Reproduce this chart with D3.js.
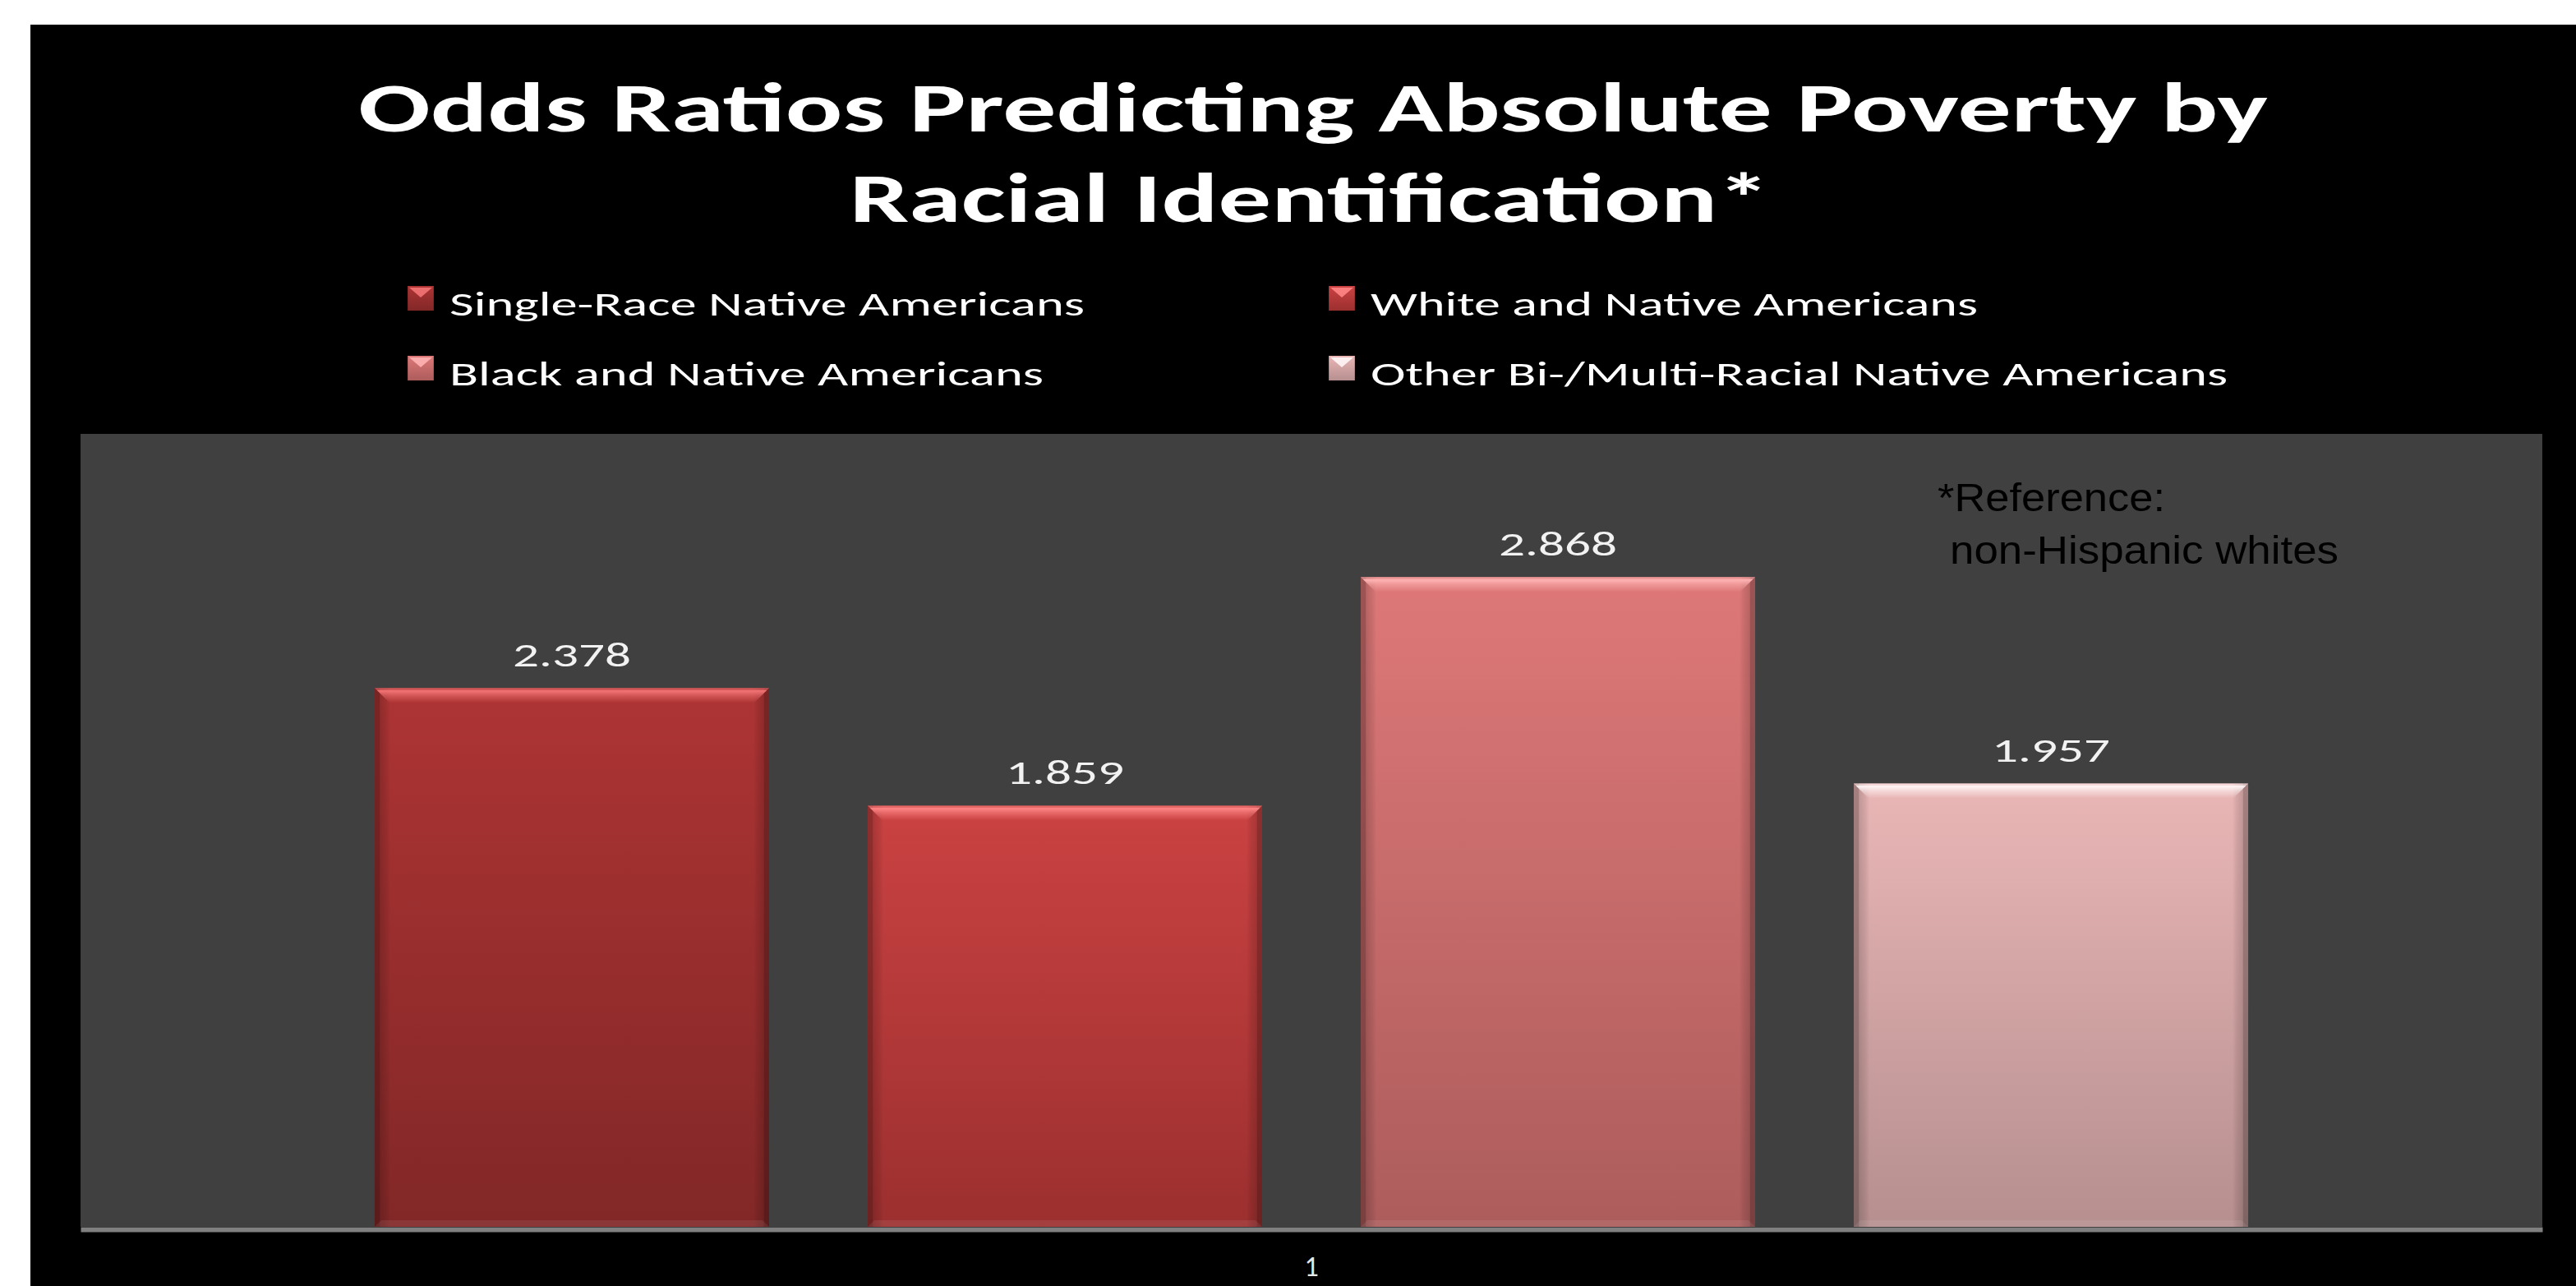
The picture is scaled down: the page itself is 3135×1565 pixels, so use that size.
<!DOCTYPE html>
<html><head><meta charset="utf-8">
<script src="https://cdn.jsdelivr.net/npm/d3@7"></script>
<style>html,body{margin:0;padding:0;background:#fff;overflow:hidden}</style>
</head><body><svg id="c" width="3135" height="1565"></svg>
<script>
// ---- data ----
const titleLines = ["Odds Ratios Predicting Absolute Poverty by", "Racial Identification*"];
const categories = ["1"];
const seriesNames = ["Single-Race Native Americans", "White and Native Americans", "Black and Native Americans", "Other Bi-/Multi-Racial Native Americans"];
const seriesValues = [2.378, 1.859, 2.868, 1.957];
const valueLabels = ["2.378", "1.859", "2.868", "1.957"];
const yDomain = [0, 3.5];
const noteLines = ["*Reference:", "non-Hispanic whites"];

// ---- styles ----
const topColors = ["#ae3434", "#cb4242", "#de7878", "#eab6b6"];
const bottomColors = ["#822727", "#9c2f2f", "#ad5c5c", "#b68f8f"];
const hiColors = ["#f37474", "#ff8585", "#ffb3b3", "#fff6f6"];
const legendWidths = [773, 739, 723, 1043];

const svg = d3.select("#c");
const W = 3135, H = 1565;
const plot = {x0: 98, x1: 3094, y0: 528, y1: 1493};

svg.append("rect").attr("x", 0).attr("y", 0).attr("width", W).attr("height", H).attr("fill", "#fff");
svg.append("rect").attr("x", 37).attr("y", 30).attr("width", W - 37).attr("height", H - 30).attr("fill", "#000");

function fit(sel, w) { sel.attr("textLength", w).attr("lengthAdjust", "spacingAndGlyphs"); }

const defs = svg.append("defs");
seriesNames.forEach((s, i) => {
  const g = defs.append("linearGradient").attr("id", "body" + i).attr("x1", 0).attr("y1", 0).attr("x2", 0).attr("y2", 1);
  g.append("stop").attr("offset", "0%").attr("stop-color", topColors[i]);
  g.append("stop").attr("offset", "100%").attr("stop-color", bottomColors[i]);
  const h = defs.append("linearGradient").attr("id", "hi" + i).attr("x1", 0).attr("y1", 0).attr("x2", 0).attr("y2", 1);
  h.append("stop").attr("offset", "0%").attr("stop-color", hiColors[i]).attr("stop-opacity", 0.55);
  h.append("stop").attr("offset", "12%").attr("stop-color", hiColors[i]).attr("stop-opacity", 0.55);
  h.append("stop").attr("offset", "18%").attr("stop-color", hiColors[i]).attr("stop-opacity", 1);
  h.append("stop").attr("offset", "50%").attr("stop-color", hiColors[i]).attr("stop-opacity", 0.55);
  h.append("stop").attr("offset", "100%").attr("stop-color", hiColors[i]).attr("stop-opacity", 0);
});
const edge = defs.append("linearGradient").attr("id", "edge").attr("x1", 0).attr("y1", 0).attr("x2", 1).attr("y2", 0);
[[0, 0.3], [0.012, 0.3], [0.014, 0.16], [0.03, 0.08], [0.04, 0], [0.96, 0], [0.97, 0.08], [0.986, 0.16], [0.988, 0.3], [1, 0.3]]
  .forEach(([o, a]) => edge.append("stop").attr("offset", o).attr("stop-color", "#000").attr("stop-opacity", a));

// ---- title ----
const titleX = [436, 1034], titleY = [160, 270], titleW = [2324, 1120];
titleLines.forEach((t, i) => {
  svg.append("text").attr("x", titleX[i]).attr("y", titleY[i])
    .attr("font-family", "Calibri, Carlito, 'Open Sans', sans-serif").attr("font-weight", 700)
    .attr("font-size", 84).attr("fill", "#fff").text(t).call(fit, titleW[i]);
});

// ---- legend ----
const legX = [496, 1617], legY = [348, 433];
seriesNames.forEach((s, i) => {
  const c = i % 2, r = Math.floor(i / 2);
  const g = svg.append("g").attr("transform", `translate(${legX[c]},${legY[r]})`);
  g.append("rect").attr("width", 32).attr("height", 30).attr("fill", `url(#body${i})`);
  g.append("path").attr("d", "M2,2H30L16,14Z").attr("fill", hiColors[i]).attr("opacity", 0.9);
  g.append("rect").attr("width", 32).attr("height", 30).attr("fill", "url(#edge)");
  g.append("text").attr("x", 51).attr("y", 36)
    .attr("font-family", "Calibri, Carlito, 'Open Sans', sans-serif").attr("font-size", 42)
    .attr("fill", "#fff").text(s).call(fit, legendWidths[i]);
});

// ---- plot ----
svg.append("rect").attr("x", plot.x0).attr("y", plot.y0).attr("width", plot.x1 - plot.x0).attr("height", plot.y1 - plot.y0).attr("fill", "#404040");

const x0 = d3.scaleBand().domain(categories).range([plot.x0, plot.x1]).paddingInner(0).paddingOuter(0.157);
const x1 = d3.scaleBand().domain(seriesNames).range([0, x0.bandwidth()]).paddingInner(0.2).paddingOuter(0);
const y = d3.scaleLinear().domain(yDomain).range([plot.y1, plot.y0]);

const data = seriesNames.map((s, i) => ({s, i, v: seriesValues[i], label: valueLabels[i]}));
const bars = svg.append("g").attr("transform", `translate(${x0(categories[0])},0)`)
  .selectAll("g").data(data).join("g")
  .attr("transform", d => `translate(${x1(d.s)},${y(d.v)})`);
const bw = x1.bandwidth();
bars.append("rect").attr("width", bw).attr("height", d => y(0) - y(d.v)).attr("fill", d => `url(#body${d.i})`);
bars.append("rect").attr("width", bw).attr("height", d => y(0) - y(d.v)).attr("fill", "url(#edge)");
bars.append("path").attr("d", `M0,0H${bw}L${bw - 18},18H18Z`).attr("fill", d => `url(#hi${d.i})`);
bars.append("path").attr("d", d => { const h = y(0) - y(d.v); return `M0,${h}H${bw}L${bw - 8},${h - 8}H8Z`; })
  .attr("fill", "#fff").attr("opacity", 0.08);

bars.append("text").attr("x", bw / 2 - 72).attr("y", -26)
  .attr("font-family", "Calibri, Carlito, 'Open Sans', sans-serif").attr("font-size", 42)
  .attr("fill", "#f2f2f2").text(d => d.label).call(fit, 144);

// ---- axis ----
const ax = svg.append("g").attr("transform", `translate(0,${plot.y1 + 3})`)
  .call(d3.axisBottom(x0).tickSize(0).tickSizeOuter(0));
ax.select(".domain").attr("stroke", "#808080").attr("stroke-width", 6);
ax.selectAll(".tick text").attr("y", 57).attr("dy", 0)
  .attr("font-family", "Calibri, Carlito, 'Open Sans', sans-serif").attr("font-size", 34).attr("fill", "#e8e8e8");

// ---- note ----
const noteX = [2358, 2373], noteY = [622, 686], noteW = [277, 473];
noteLines.forEach((t, i) => {
  svg.append("text").attr("x", noteX[i]).attr("y", noteY[i])
    .attr("font-family", "Arial, 'Liberation Sans', sans-serif").attr("font-size", 49)
    .attr("fill", "#000").text(t).call(fit, noteW[i]);
});
</script></body></html>
